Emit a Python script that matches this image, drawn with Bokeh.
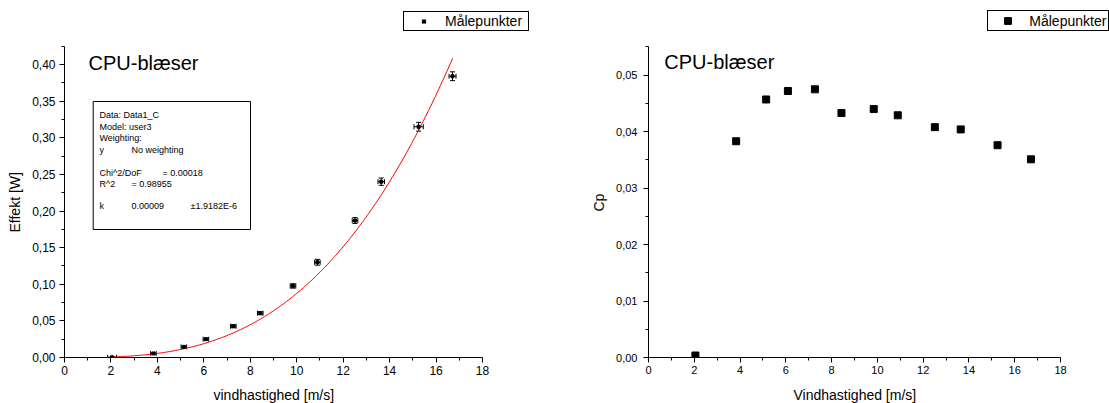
import numpy as np
from bokeh.plotting import figure
from bokeh.models import (Range1d, FixedTicker, CustomJSTickFormatter, Legend, LegendItem,
                          ColumnDataSource, Whisker, TeeHead, BoxAnnotation, Label, Title)
from bokeh.layouts import row
from bokeh.embed import file_html
from bokeh.resources import INLINE

# ---------------- data ----------------
wind_speed = [2.05, 3.83, 5.14, 6.09, 7.27, 8.43, 9.84, 10.89, 12.51, 13.64, 15.25, 16.71]
power_w = [0.0003, 0.0055, 0.0145, 0.025, 0.0427, 0.0605, 0.0977, 0.130, 0.187, 0.240, 0.315, 0.384]
wind_err = [0.19, 0.12, 0.12, 0.12, 0.12, 0.12, 0.12, 0.12, 0.12, 0.14, 0.20, 0.15]
power_err = [0.0005, 0.001, 0.001, 0.0015, 0.002, 0.002, 0.003, 0.004, 0.004, 0.005, 0.006, 0.006]
cp_values = [0.00035, 0.0383, 0.0457, 0.0472, 0.0475, 0.0433, 0.0440, 0.0429, 0.0408, 0.0404, 0.0376, 0.0351]

fit_k = 0.0000875          # fitted model P = k * v^3
fit_v_start, fit_v_end = 2.05, 16.71

x_ticks = [0, 2, 4, 6, 8, 10, 12, 14, 16, 18]
x_minor = [1, 3, 5, 7, 9, 11, 13, 15, 17]
p_ticks = [0.0, 0.05, 0.10, 0.15, 0.20, 0.25, 0.30, 0.35, 0.40]
p_minor = [0.025, 0.075, 0.125, 0.175, 0.225, 0.275, 0.325, 0.375, 0.425]
cp_ticks = [0.0, 0.01, 0.02, 0.03, 0.04, 0.05]
cp_minor = [0.005, 0.015, 0.025, 0.035, 0.045, 0.055]
x_axis_max, p_axis_max, cp_axis_max = 18, 0.425, 0.055

stats_lines = [
    ("Data: Data1_C", "", ""),
    ("Model: user3", "", ""),
    ("Weighting:", "", ""),
    ("y", "No weighting", ""),
    ("Chi^2/DoF", "", "= 0.00018"),
    ("R^2", "=  0.98955", ""),
    ("k", "0.00009", "±1.9182E-6"),
]
legend_label = "Målepunkter"

FONT = "Liberation Sans"
H = 403
FRAME_BOTTOM = 357

# ---------------- helpers ----------------
def style_axes(p, tick_font, y_ticks, y_minor, y_max, y_std):
    xa, ya = p.xaxis[0], p.yaxis[0]
    xa.ticker = FixedTicker(ticks=x_ticks, minor_ticks=x_minor)
    ya.ticker = FixedTicker(ticks=y_ticks, minor_ticks=y_minor)
    xa.bounds = (0, x_axis_max)
    ya.bounds = (0, y_max)
    ya.formatter = CustomJSTickFormatter(code="return tick.toFixed(2).replace('.', ',');")
    for ax in (xa, ya):
        ax.axis_label = None
        ax.major_label_text_font = FONT
        ax.major_label_text_font_size = tick_font
        ax.major_label_text_color = "black"
        ax.axis_line_color = "black"
        ax.axis_line_width = 1
        ax.major_tick_line_color = "black"
        ax.minor_tick_line_color = "black"
        ax.major_tick_out = 5
        ax.major_tick_in = 0
        ax.minor_tick_out = 3
        ax.minor_tick_in = 0
    xa.major_label_standoff = 3
    ya.major_label_standoff = y_std


def spacer(size):
    return Title(text=" ", text_font=FONT, text_font_size=size, standoff=0,
                 text_color="white")


def add_titles(p, xlabel, x_offset, x_gap, ylabel, y_offset):
    p.add_layout(spacer(x_gap), "below")
    p.add_layout(Title(text=xlabel, align="left", offset=x_offset, standoff=0,
                       text_font=FONT, text_font_size="14px", text_font_style="normal",
                       text_color="black"), "below")
    p.add_layout(spacer("4px"), "left")
    p.add_layout(Title(text=ylabel, align="left", offset=y_offset, standoff=0,
                       text_font=FONT, text_font_size="14px", text_font_style="normal",
                       text_color="black"), "left")


def make_fig(width, left, x_end, y_end):
    p = figure(width=width, height=H, x_range=Range1d(0, x_end), y_range=Range1d(0, y_end),
               output_backend="svg", toolbar_location=None,
               min_border_left=left, min_border_right=0,
               min_border_top=0, min_border_bottom=H - FRAME_BOTTOM)
    p.grid.visible = False
    p.outline_line_color = None
    p.background_fill_color = "white"
    p.border_fill_color = "white"
    return p


def add_legend(p, renderer, loc, label_width, glyph_height):
    leg = Legend(items=[LegendItem(label=legend_label, renderers=[renderer])],
                 location=loc, orientation="vertical", padding=1, margin=0, spacing=0,
                 glyph_width=37, glyph_height=glyph_height, label_height=16,
                 label_width=label_width, label_standoff=3, border_line_color="black",
                 border_line_width=1, border_line_alpha=1, background_fill_color="white",
                 background_fill_alpha=1, label_text_font=FONT, label_text_font_size="14px",
                 label_text_color="black")
    p.add_layout(leg)


# ---------------- left plot: power ----------------
L_W, L_LEFT = 555, 64
l_xscale = (482 - L_LEFT) / 18.0
l_yscale = (FRAME_BOTTOM - 64) / 0.40
lx = lambda px: (px - L_LEFT) / l_xscale
ly = lambda py: (FRAME_BOTTOM - py) / l_yscale

p1 = make_fig(L_W, L_LEFT, (L_W - L_LEFT) / l_xscale, FRAME_BOTTOM / l_yscale)
style_axes(p1, "12px", p_ticks, p_minor, p_axis_max, 4)
add_titles(p1, "vindhastighed [m/s]", 149, "4px", "Effekt [W]", 125)

fit_v = np.linspace(fit_v_start, fit_v_end, 200)
p1.line(fit_v, fit_k * fit_v ** 3, line_color="red", line_width=1)

src = ColumnDataSource(dict(
    x=wind_speed, y=power_w,
    xl=[v - e for v, e in zip(wind_speed, wind_err)],
    xu=[v + e for v, e in zip(wind_speed, wind_err)],
    yl=[v - e for v, e in zip(power_w, power_err)],
    yu=[v + e for v, e in zip(power_w, power_err)],
))
head = lambda: TeeHead(size=5, line_color="black", line_width=1)
p1.add_layout(Whisker(source=src, base="y", lower="xl", upper="xu", dimension="width",
                      line_color="black", line_width=1, upper_head=head(), lower_head=head()))
p1.add_layout(Whisker(source=src, base="x", lower="yl", upper="yu", dimension="height",
                      line_color="black", line_width=1, upper_head=head(), lower_head=head()))
r1 = p1.scatter("x", "y", source=src, marker="square", size=3, color="black")
add_legend(p1, r1, (403 - L_LEFT, FRAME_BOTTOM - 31), 82, 8)

p1.add_layout(Label(x=lx(88), y=ly(62.7), text="CPU-blæser", text_font=FONT,
                    text_font_size="20px", text_baseline="middle", text_color="black"))

p1.add_layout(BoxAnnotation(left=lx(92.7), right=lx(250), top=ly(101), bottom=ly(229),
                            fill_color="white", fill_alpha=1, line_color="black",
                            line_width=1, line_alpha=1))
line_y = [114.3, 126, 137.3, 149, 172, 183, 205.7]
col_x = [99, 131, 162]
for (a, b, c), yy in zip(stats_lines, line_y):
    for txt, xx in zip((a, b, c), col_x):
        if txt:
            if txt.startswith("±"):
                xx = 190
            p1.add_layout(Label(x=lx(xx), y=ly(yy), text=txt, text_font=FONT,
                                text_font_size="9px", text_baseline="middle",
                                text_color="black"))

# ---------------- right plot: Cp ----------------
R_W, R_LEFT = 554, 93
r_xscale = (1060 - 555 - R_LEFT) / 18.0
r_yscale = (FRAME_BOTTOM - 74.7) / 0.05
rx = lambda px: (px - 555 - R_LEFT) / r_xscale
ry = lambda py: (FRAME_BOTTOM - py) / r_yscale

p2 = make_fig(R_W, R_LEFT, (R_W - R_LEFT) / r_xscale, FRAME_BOTTOM / r_yscale)
style_axes(p2, "11px", cp_ticks, cp_minor, cp_axis_max, 6)
add_titles(p2, "Vindhastighed [m/s]", 145, "5px", "Cp", 146)
r2 = p2.scatter(wind_speed, cp_values, marker="square", size=7, color="black")
add_legend(p2, r2, (987.3 - 555 - R_LEFT, FRAME_BOTTOM - 31), 78, 17)
p2.add_layout(Label(x=rx(663.8), y=ry(61.7), text="CPU-blæser", text_font=FONT,
                    text_font_size="20px", text_baseline="middle", text_color="black"))

layout = row(p1, p2)
open("out.html", "w").write(file_html(layout, INLINE))
